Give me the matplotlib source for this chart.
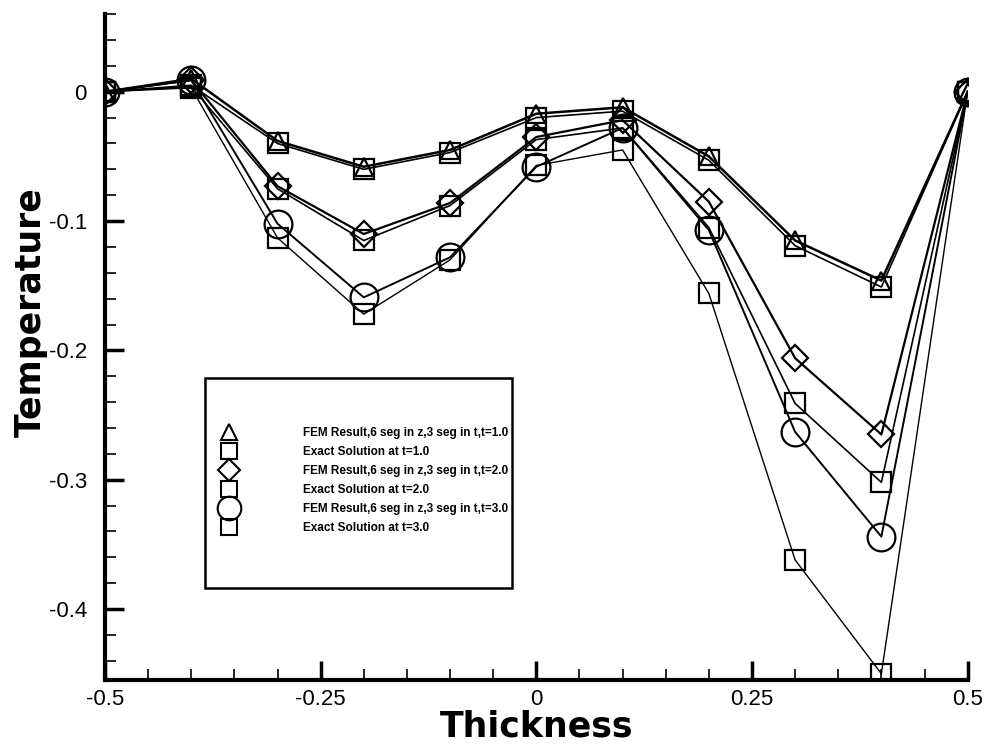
import matplotlib
matplotlib.use('Agg')
import matplotlib.pyplot as plt
from matplotlib.patches import Rectangle
from matplotlib.lines import Line2D
from matplotlib.ticker import MultipleLocator, FixedLocator

plt.rcParams['font.family'] = ['Liberation Sans', 'DejaVu Sans']

# thickness positions and temperature profiles
thickness = [-0.5, -0.4, -0.3, -0.2, -0.1, 0.0, 0.1, 0.2, 0.3, 0.4, 0.5]
fem_t1 = [0, 0.010, -0.038, -0.058, -0.045, -0.017, -0.012, -0.050, -0.115, -0.146, 0]
exact_t1 = [0, 0.005, -0.040, -0.060, -0.047, -0.020, -0.015, -0.053, -0.119, -0.151, 0]
fem_t2 = [0, 0.009, -0.073, -0.110, -0.086, -0.035, -0.022, -0.085, -0.206, -0.265, 0]
exact_t2 = [0, 0.004, -0.075, -0.115, -0.088, -0.037, -0.028, -0.105, -0.241, -0.302, 0]
fem_t3 = [0, 0.009, -0.102, -0.159, -0.128, -0.058, -0.028, -0.107, -0.263, -0.344, 0]
exact_t3 = [0, 0.003, -0.113, -0.172, -0.130, -0.057, -0.045, -0.156, -0.362, -0.450, 0]

labels = ['FEM Result,6 seg in z,3 seg in t,t=1.0',
          'Exact Solution at t=1.0',
          'FEM Result,6 seg in z,3 seg in t,t=2.0',
          'Exact Solution at t=2.0',
          'FEM Result,6 seg in z,3 seg in t,t=3.0',
          'Exact Solution at t=3.0']

series = [fem_t1, exact_t1, fem_t2, exact_t2, fem_t3, exact_t3]
markers = ['^', 's', 'D', 's', 'o', 's']
msizes = [13, 14, 13, 14, 20, 14]
widths = [1.8, 1.2, 1.6, 1.2, 1.4, 1.0]

fig = plt.figure(figsize=(9.95, 7.45), dpi=100)
ax = fig.add_axes([0.1055, 0.087, 0.867, 0.894])

for ys, m, ms, lw in zip(series, markers, msizes, widths):
    ax.plot(thickness, ys, color='black', lw=lw, marker=m, ms=ms,
            mfc='none', mec='black', mew=1.6)

ax.set_xlim(-0.5, 0.5)
ax.set_ylim(-0.455, 0.06)

ax.xaxis.set_major_locator(FixedLocator([-0.5, -0.25, 0, 0.25, 0.5]))
ax.xaxis.set_minor_locator(MultipleLocator(0.05))
ax.yaxis.set_major_locator(FixedLocator([-0.4, -0.3, -0.2, -0.1, 0]))
ax.yaxis.set_minor_locator(MultipleLocator(0.02))
ax.set_xticklabels(['-0.5', '-0.25', '0', '0.25', '0.5'])
ax.set_yticklabels(['-0.4', '-0.3', '-0.2', '-0.1', '0'])

for side in ['top', 'right']:
    ax.spines[side].set_visible(False)
for side in ['left', 'bottom']:
    ax.spines[side].set_linewidth(3)

ax.tick_params(which='major', direction='in', length=14, width=2.5,
               labelsize=16, pad=6)
ax.tick_params(axis='y', which='major', pad=13)
ax.tick_params(which='minor', direction='in', length=8, width=1.2)

ax.set_xlabel('Thickness', fontsize=25, fontweight='bold',
              family='DejaVu Sans', va='baseline')
ax.xaxis.set_label_coords(0.5, -0.0846)
ax.set_ylabel('Temperature', fontsize=25, fontweight='bold',
              family='DejaVu Sans')
ax.yaxis.set_label_coords(-0.066, 0.553)

# legend box drawn as in the original, with entries inside
ax.add_patch(Rectangle((0.116, 0.138), 0.356, 0.315, transform=ax.transAxes,
                       fill=False, ec='black', lw=1.8, zorder=5))
handles = [Line2D([], [], ls='none', marker=m, ms=ms * 0.85, mfc='none',
                  mec='black', mew=1.5) for m, ms in zip(markers, msizes)]
ax.legend(handles, labels, loc='upper left', bbox_to_anchor=(0.134, 0.3795),
          frameon=False, prop={'size': 8.5, 'weight': 'bold'},
          labelspacing=0.58, handlelength=1.5, handletextpad=5.5,
          borderpad=0, borderaxespad=0)

fig.savefig('out.png', dpi=100)
